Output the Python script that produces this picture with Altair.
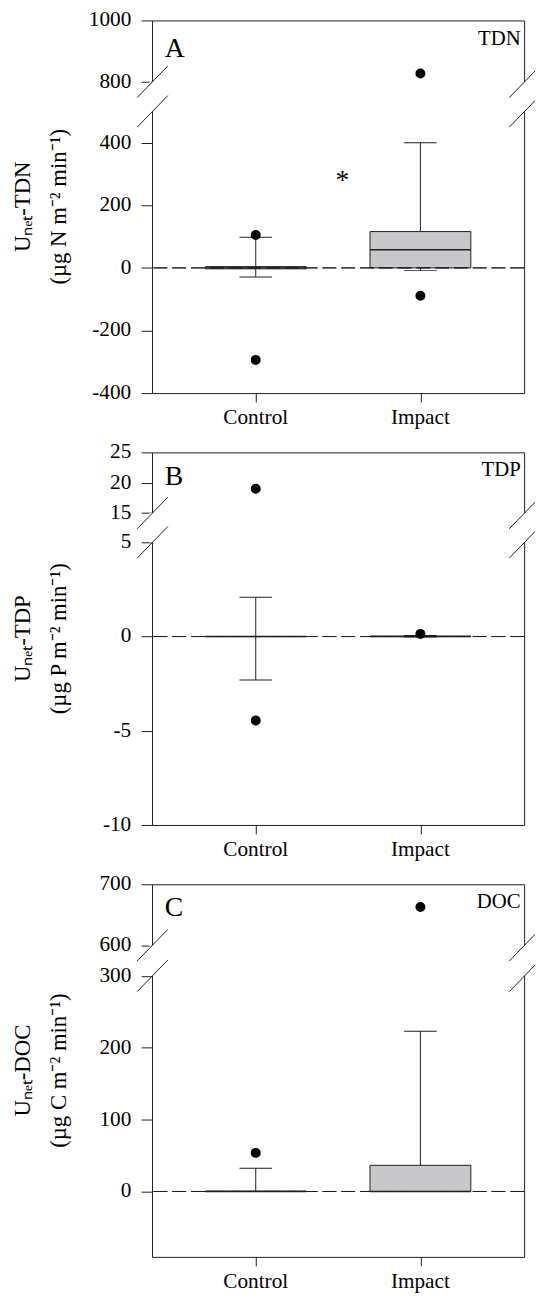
import altair as alt
import pandas as pd

FONT = "Liberation Serif"
INK = "#1e1e1e"
BOX_FILL = "#c8c8ca"

W = 376.5
H = 377

groups = ["Control", "Impact"]
group_pos = [1, 2]
x_domain = [0.4, 2.6]

# ---- Panel A : TDN ----
tdn_q1 = [-3, 0]
tdn_med = [0, 58]
tdn_q3 = [4, 116]
tdn_wlo = [-29, -8]
tdn_whi = [98, 400]
tdn_out_pos = [1, 1, 2, 2]
tdn_out_val = [105, -294, 827, -89]
tdn_ticks = [-400, -200, 0, 200, 400, 800, 1000]
tdn_domain = [-400, 500, 800, 1000]
star_pos = [1.526]
star_val = [294]

# ---- Panel B : TDP ----
tdp_q1 = [0, 0]
tdp_med = [0, 0]
tdp_q3 = [0, 0.02]
tdp_wlo = [-2.31, -0.02]
tdp_whi = [2.08, 0.05]
tdp_out_pos = [1, 1, 2]
tdp_out_val = [19.0, -4.46, 0.14]
tdp_ticks = [-10, -5, 0, 5, 15, 20, 25]
tdp_domain = [-10, 5, 15, 25]

# ---- Panel C : DOC ----
doc_q1 = [0, 0]
doc_med = [0, 0]
doc_q3 = [0.5, 36.4]
doc_wlo = [0, 0]
doc_whi = [32.3, 223]
doc_out_pos = [1, 2]
doc_out_val = [53.7, 662.8]
doc_ticks = [0, 100, 200, 300, 600, 700]
doc_domain = [-91, 300, 600, 700]


def make_panel(letter, tag, title, ydom, yrng, yticks, q1, med, q3, wlo, whi,
               out_pos, out_val, letter_base, tag_base, star=None):
    box = pd.DataFrame({"pos": group_pos, "group": groups, "q1": q1, "med": med,
                        "q3": q3, "wlo": wlo, "whi": whi})
    outl = pd.DataFrame({"pos": out_pos, "val": out_val})
    tdf = pd.DataFrame({"v": yticks, "lab": [str(t) for t in yticks]})
    xs = alt.Scale(domain=x_domain, nice=False, zero=False)
    ys = alt.Scale(domain=ydom, range=yrng, nice=False, zero=False)
    xax = alt.Axis(values=group_pos, labels=False, title=None, grid=False,
                   domain=False, tickSize=9, tickColor=INK)
    yax = alt.Axis(values=yticks, labels=False, title=None, grid=False,
                   domain=False, tickSize=11, tickColor=INK)

    def X():
        return alt.X("pos:Q", scale=xs, axis=xax)

    def Y(field):
        return alt.Y(f"{field}:Q", scale=ys, axis=yax)

    base = alt.Chart(box)
    zero = base.mark_rule(color=INK, strokeWidth=1, strokeDash=[14, 5]).encode(
        y=alt.Y(datum=0, type="quantitative", scale=ys, axis=yax))
    boxes = base.mark_bar(size=102, fill=BOX_FILL, stroke=INK, strokeWidth=1).encode(
        x=X(), y=Y("q1"), y2="q3")
    wh_up = base.mark_rule(color=INK, strokeWidth=1).encode(x=X(), y=Y("q3"), y2="whi")
    wh_dn = base.mark_rule(color=INK, strokeWidth=1).encode(x=X(), y=Y("q1"), y2="wlo")
    cap_up = base.mark_tick(orient="horizontal", size=33, thickness=1, color=INK,
                            opacity=1).encode(x=X(), y=Y("whi"))
    cap_dn = base.mark_tick(orient="horizontal", size=33, thickness=1, color=INK,
                            opacity=1).encode(x=X(), y=Y("wlo"))
    medl = base.mark_tick(orient="horizontal", size=102, thickness=1.5, color=INK,
                          opacity=1).encode(x=X(), y=Y("med"))
    pts = alt.Chart(outl).mark_circle(size=102, color="black", opacity=1).encode(
        x=X(), y=Y("val"))

    # tick labels and axis title as text marks (serif)
    ylabels = alt.Chart(tdf).mark_text(font=FONT, fontSize=21.5, align="right",
                                       baseline="middle", color="black").encode(
        x=alt.value(-21), y=Y("v"), text="lab:N")
    xlabels = base.mark_text(font=FONT, fontSize=21.5, align="center",
                             baseline="top", color="black").encode(
        x=X(), y=alt.value(H + 14), text="group:N")
    tt = pd.DataFrame({"t": ["\n".join(title)]})
    ytitle = alt.Chart(tt).mark_text(font=FONT, fontSize=23, angle=270, align="center",
                                     baseline="alphabetic", lineBreak="\n",
                                     lineHeight=36.4, color="black").encode(
        x=alt.value(-123.3), y=alt.value(H / 2), text="t:N")

    layers = [boxes, zero, wh_up, wh_dn, cap_up, cap_dn, medl, pts,
              ylabels, xlabels, ytitle]

    # axis break: white masks over the frame and two diagonal strokes on each side
    b1, b2 = ydom[1], ydom[2]
    r1, r2 = yrng[1], yrng[2]
    brk = pd.DataFrame({"lo": [b1], "hi": [b2]})
    for xe in (0, W):
        layers.append(alt.Chart(brk).mark_rect(color="white").encode(
            x=alt.value(xe - 2.5), x2=alt.value(xe + 2.5),
            y=Y("lo"), y2="hi"))
        for rr in (r1, r2):
            layers.append(alt.Chart(brk).mark_rule(color=INK, strokeWidth=1).encode(
                x=alt.value(xe - 15), x2=alt.value(xe + 16),
                y=alt.value(rr + 16), y2=alt.value(rr - 16)))

    lab = pd.DataFrame({"letter": [letter], "tag": [tag]})
    layers.append(alt.Chart(lab).mark_text(font=FONT, fontSize=28, align="left",
                                           baseline="alphabetic", color="black").encode(
        text="letter:N", x=alt.value(12.8), y=alt.value(letter_base)))
    layers.append(alt.Chart(lab).mark_text(font=FONT, fontSize=21, align="right",
                                           baseline="alphabetic", color="black").encode(
        text="tag:N", x=alt.value(W - 3.5), y=alt.value(tag_base)))

    if star is not None:
        sdf = pd.DataFrame({"pos": star[0], "val": star[1], "s": ["*"]})
        layers.append(alt.Chart(sdf).mark_text(font=FONT, fontSize=28, baseline="alphabetic",
                                               dy=13, color="black").encode(
            x=X(), y=Y("val"), text="s:N"))

    return alt.layer(*layers).properties(width=W, height=H)


pA = make_panel("A", "TDN", ["Uₙₑₜ-TDN", "(µg N m⁻² min⁻¹)"], tdn_domain,
                [H, 92, 62, 0], tdn_ticks, tdn_q1, tdn_med, tdn_q3, tdn_wlo,
                tdn_whi, tdn_out_pos, tdn_out_val, 37.3, 24.7,
                star=(star_pos, star_val))
pB = make_panel("B", "TDP", ["Uₙₑₜ-TDP", "(µg P m⁻² min⁻¹)"], tdp_domain,
                [H, 91, 61.3, 0], tdp_ticks, tdp_q1, tdp_med, tdp_q3, tdp_wlo,
                tdp_whi, tdp_out_pos, tdp_out_val, 33, 24)
pC = make_panel("C", "DOC", ["Uₙₑₜ-DOC", "(µg C m⁻² min⁻¹)"], doc_domain,
                [H, 92.6, 61.6, 0], doc_ticks, doc_q1, doc_med, doc_q3, doc_wlo,
                doc_whi, doc_out_pos, doc_out_val, 31.6, 24.3)

chart = alt.vconcat(pA, pB, pC, spacing=60, bounds="flush").configure_view(
    stroke=INK, strokeWidth=1).properties(
    padding={"left": 3.7, "top": -7, "right": -6, "bottom": 0})

chart.save("out.html", embed_options={"renderer": "svg", "actions": False})
